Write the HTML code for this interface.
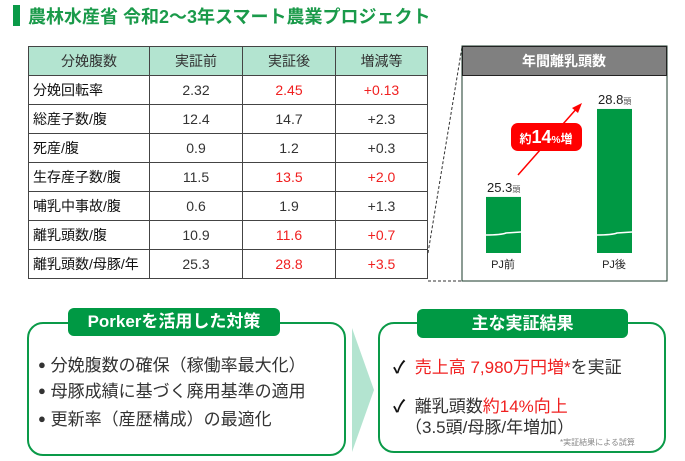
<!DOCTYPE html>
<html><head><meta charset="utf-8"><style>
body{margin:0;width:685px;height:461px;background:#fff;position:relative;overflow:hidden;font-family:"Liberation Sans","Noto Sans CJK JP",sans-serif;}
.abs{position:absolute;}
table{position:absolute;left:28px;top:46px;border-collapse:collapse;width:400px;}
td,th{border:1.5px solid #444;height:28px;padding:0;font-size:14px;text-align:center;color:#333;font-weight:normal;}
th{background:#b3e4d0;}
td.l{text-align:left;padding-left:4px;color:#111;}
.r{color:#f02020;}
.box{position:absolute;border:2.5px solid #0a9a48;border-radius:16px;background:#fff;}
.pill{position:absolute;background:#009944;color:#fff;font-weight:bold;font-size:17px;text-align:center;border-radius:6px;}
.li{position:absolute;font-size:17px;color:#333;white-space:nowrap;}
.dot{font-size:13px;vertical-align:2px;}
</style></head><body>
<div class="abs" style="left:13px;top:5px;width:7px;height:21px;background:#0a9a48"></div>
<div class="abs" style="left:28px;top:3px;font-size:18px;font-weight:bold;color:#1a9a4a;white-space:nowrap">農林水産省 令和2～3年スマート農業プロジェクト</div>

<table>
<tr><th style="width:120px">分娩腹数</th><th style="width:92px">実証前</th><th style="width:92px">実証後</th><th>増減等</th></tr>
<tr><td class="l">分娩回転率</td><td>2.32</td><td class="r">2.45</td><td class="r">+0.13</td></tr>
<tr><td class="l">総産子数/腹</td><td>12.4</td><td>14.7</td><td>+2.3</td></tr>
<tr><td class="l">死産/腹</td><td>0.9</td><td>1.2</td><td>+0.3</td></tr>
<tr><td class="l">生存産子数/腹</td><td>11.5</td><td class="r">13.5</td><td class="r">+2.0</td></tr>
<tr><td class="l">哺乳中事故/腹</td><td>0.6</td><td>1.9</td><td>+1.3</td></tr>
<tr><td class="l">離乳頭数/腹</td><td>10.9</td><td class="r">11.6</td><td class="r">+0.7</td></tr>
<tr><td class="l">離乳頭数/母豚/年</td><td>25.3</td><td class="r">28.8</td><td class="r">+3.5</td></tr>
</table>

<svg class="abs" style="left:0;top:0" width="685" height="461">
<line x1="428" y1="253" x2="462" y2="47" stroke="#333" stroke-dasharray="3,2"/>
<line x1="428" y1="281" x2="462" y2="281" stroke="#333" stroke-dasharray="3,2"/>
<rect x="462" y="46" width="205" height="235" fill="#fff" stroke="#1a3a2a" stroke-width="1"/>
<rect x="462.5" y="46.5" width="204" height="29" fill="#808080" stroke="#222"/>
<text x="564" y="66" text-anchor="middle" fill="#fff" font-size="14" font-weight="bold" font-family="Liberation Sans,Noto Sans CJK JP,sans-serif">年間離乳頭数</text>
<g id="bars"></g>
<line x1="518" y1="175" x2="578" y2="107" stroke="#f00" stroke-width="1.5"/>
<polygon points="582,103 572,108 578,113" fill="#f00"/>
<rect x="511" y="123" width="71" height="28" rx="7" fill="#f00"/>
<text x="546" y="143" text-anchor="middle" fill="#fff" font-weight="bold" font-family="Liberation Sans,Noto Sans CJK JP,sans-serif"><tspan font-size="12">約</tspan><tspan font-size="18">14</tspan><tspan font-size="10">%</tspan><tspan font-size="12">増</tspan></text>
</svg>

<div class="box" style="left:27px;top:322px;width:315px;height:130px"></div>
<div class="pill" style="left:68px;top:308px;width:212px;height:28px;line-height:28px">Porkerを活用した対策</div>
<div class="li" style="left:38px;top:351px"><span class="dot">●</span> 分娩腹数の確保（稼働率最大化）</div>
<div class="li" style="left:38px;top:377px"><span class="dot">●</span> 母豚成績に基づく廃用基準の適用</div>
<div class="li" style="left:38px;top:405px"><span class="dot">●</span> 更新率（産歴構成）の最適化</div>

<svg class="abs" style="left:352px;top:328px" width="24" height="126"><polygon points="0,0 22,62 0,124" fill="#b3e4d0"/></svg>

<div class="box" style="left:378px;top:322px;width:284px;height:127px"></div>
<div class="pill" style="left:417px;top:309px;width:211px;height:29px;line-height:29px">主な実証結果</div>
<div class="li" style="left:393px;top:353px"><b style="color:#111">✓</b>&nbsp;&nbsp;<span class="r">売上高 7,980万円増*</span>を実証</div>
<div class="li" style="left:393px;top:392px"><b style="color:#111">✓</b>&nbsp;&nbsp;離乳頭数<span class="r">約14%向上</span></div>
<div class="li" style="left:405px;top:413px">（3.5頭/母豚/年増加）</div>
<div class="li" style="left:560px;top:437px;font-size:8px;color:#888">*実証結果による試算</div>

<script>
const categories=["PJ前","PJ後"];
const values=[25.3,28.8];
const valueLabels=["25.3","28.8"];
const ns="http://www.w3.org/2000/svg";
const g=document.getElementById('bars');
const base=253, v0=23.07, k=25.14;
function y(v){return base-k*(v-v0);}
function x(i){return 486+i*111;}
categories.forEach((c,i)=>{
  const top=y(values[i]);
  const r=document.createElementNS(ns,'rect');
  r.setAttribute('x',x(i));r.setAttribute('y',top);r.setAttribute('width',35);r.setAttribute('height',base-top);r.setAttribute('fill','#009944');
  
  
  g.appendChild(r);
  const w=document.createElementNS(ns,'path');
  w.setAttribute('d',`M${x(i)} 235 Q${x(i)+15} 235 ${x(i)+20} 233 L${x(i)+35} 232`);
  w.setAttribute('stroke','#fff');w.setAttribute('fill','none');w.setAttribute('stroke-width','1.5');
  g.appendChild(w);
  const t=document.createElementNS(ns,'text');
  t.setAttribute('x',x(i)+1);t.setAttribute('y',top-5);t.setAttribute('font-size','13');t.setAttribute('fill','#222');
  t.setAttribute('font-family','Liberation Sans,Noto Sans CJK JP,sans-serif');
  t.innerHTML=valueLabels[i]+'<tspan font-size="8" fill="#555">頭</tspan>';
  
  
  g.appendChild(t);
  const c2=document.createElementNS(ns,'text');
  c2.setAttribute('x',x(i)+17);c2.setAttribute('y',268);c2.setAttribute('text-anchor','middle');c2.setAttribute('font-size','11');c2.setAttribute('fill','#222');
  c2.setAttribute('font-family','Liberation Sans,Noto Sans CJK JP,sans-serif');
  c2.textContent=c;
  
  
  g.appendChild(c2);
});
</script>
</body></html>
